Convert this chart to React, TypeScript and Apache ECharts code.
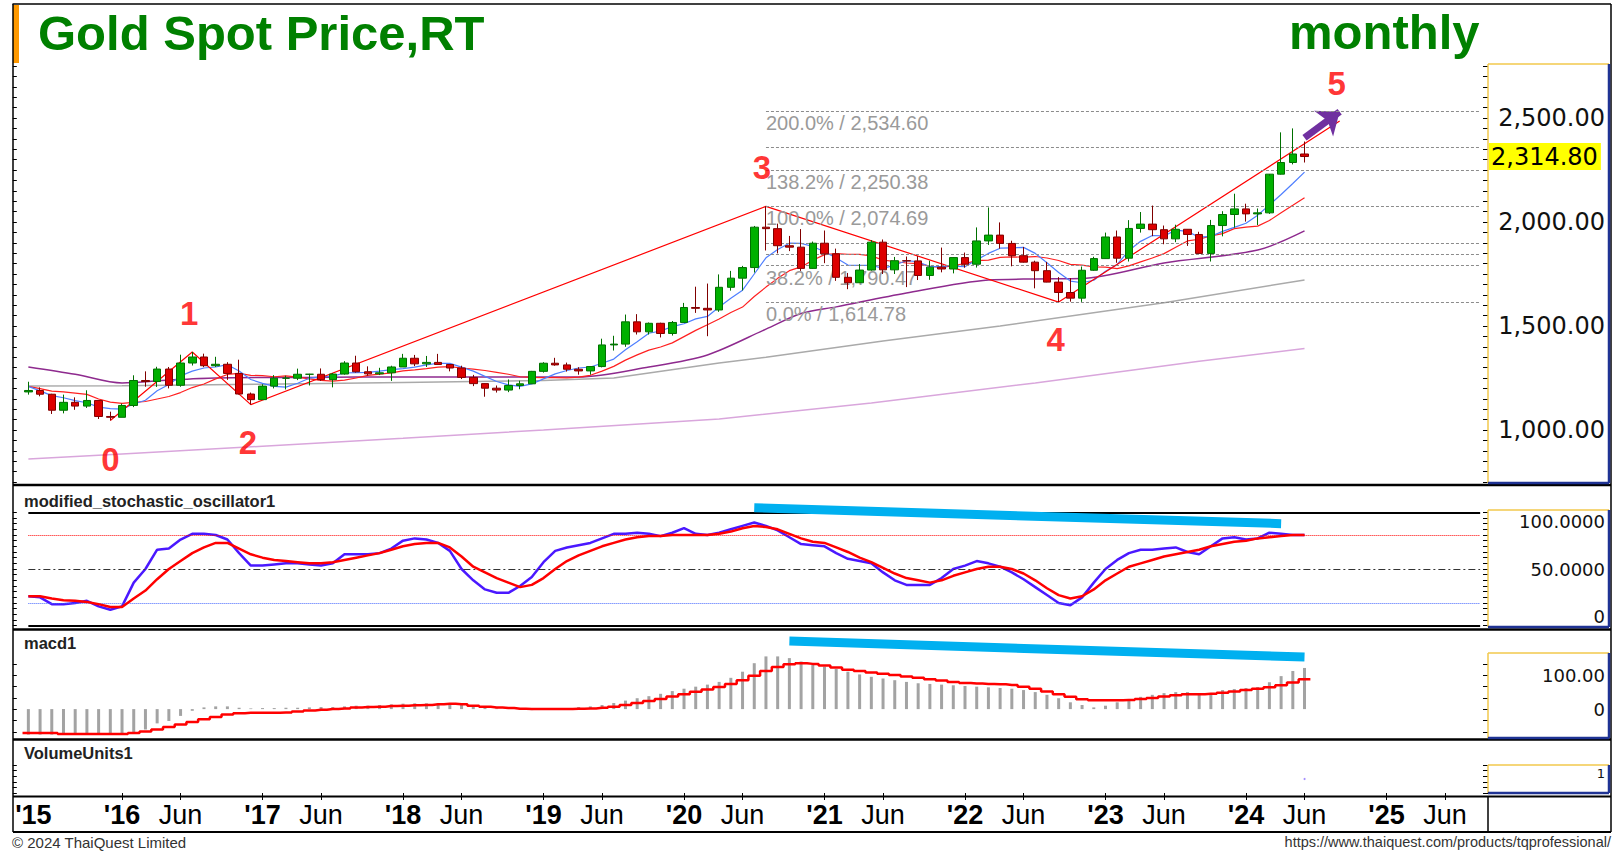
import React, { useEffect, useRef } from "react";
import * as echarts from "echarts";

// ---------- categories (monthly, Apr 2015 .. Sep 2025) ----------
const months: string[] = [];
{
  let y = 2015, m = 4;
  while (y < 2025 || (y === 2025 && m <= 9)) {
    months.push(`${y}-${m < 10 ? "0" + m : m}`);
    m += 1;
    if (m > 12) { m = 1; y += 1; }
  }
}
const firstCandle = "2015-05";
const lastPrice = 2314.8;

// ---------- x axis tick labels ----------
const xAxisMarks: Record<string, string> = {
  "2015-05": "'15",
  "2016-01": "'16", "2016-06": "Jun",
  "2017-01": "'17", "2017-06": "Jun",
  "2018-01": "'18", "2018-06": "Jun",
  "2019-01": "'19", "2019-06": "Jun",
  "2020-01": "'20", "2020-06": "Jun",
  "2021-01": "'21", "2021-06": "Jun",
  "2022-01": "'22", "2022-06": "Jun",
  "2023-01": "'23", "2023-06": "Jun",
  "2024-01": "'24", "2024-06": "Jun",
  "2025-01": "'25", "2025-06": "Jun",
};

// ---------- monthly OHLC, May 2015 .. Jun 2024 ----------
const opens = [
  1183, 1190, 1172, 1095, 1133, 1115, 1142, 1065,
  1061, 1118, 1238, 1233, 1293, 1215, 1322, 1351, 1309, 1316, 1272, 1173,
  1146, 1211, 1249, 1249, 1268, 1268, 1242, 1269, 1322, 1280, 1270, 1275,
  1303, 1345, 1318, 1325, 1315, 1298, 1253, 1223, 1201, 1192, 1214, 1222,
  1282, 1321, 1313, 1292, 1284, 1305, 1409, 1413, 1520, 1472, 1513, 1464,
  1517, 1589, 1585, 1577, 1686, 1730, 1781, 1975, 1968, 1886, 1879, 1777,
  1898, 1847, 1734, 1708, 1769, 1903, 1770, 1814, 1813, 1743, 1783, 1774,
  1829, 1797, 1909, 1937, 1897, 1838, 1807, 1766, 1711, 1661, 1634, 1768,
  1824, 1928, 1826, 1969, 1990, 1963, 1919, 1965, 1940, 1849, 1983, 2036,
  2063, 2039, 2044, 2230, 2286, 2327,
];
const highs = [
  1232, 1205, 1174, 1170, 1157, 1191, 1142, 1088,
  1127, 1263, 1282, 1304, 1303, 1362, 1375, 1367, 1352, 1326, 1338, 1180,
  1220, 1264, 1261, 1295, 1270, 1296, 1274, 1331, 1357, 1306, 1299, 1309,
  1366, 1361, 1356, 1366, 1316, 1309, 1265, 1224, 1214, 1243, 1237, 1284,
  1326, 1347, 1324, 1302, 1306, 1439, 1453, 1555, 1557, 1517, 1516, 1524,
  1611, 1689, 1704, 1748, 1765, 1789, 1981, 2075, 1992, 1933, 1966, 1906,
  1959, 1872, 1755, 1798, 1913, 1916, 1832, 1834, 1836, 1814, 1877, 1831,
  1853, 1974, 2070, 1998, 1910, 1880, 1814, 1808, 1735, 1730, 1786, 1833,
  1949, 1959, 2009, 2048, 2079, 1983, 1987, 1966, 1953, 2010, 2052, 2136,
  2088, 2065, 2222, 2431, 2450, 2387,
];
const lows = [
  1170, 1162, 1077, 1080, 1097, 1106, 1053, 1046,
  1061, 1110, 1208, 1207, 1200, 1208, 1310, 1302, 1303, 1241, 1171, 1122,
  1146, 1200, 1195, 1240, 1214, 1236, 1205, 1266, 1276, 1261, 1264, 1236,
  1303, 1307, 1303, 1314, 1282, 1245, 1211, 1160, 1180, 1182, 1196, 1221,
  1276, 1309, 1281, 1266, 1266, 1301, 1382, 1400, 1459, 1459, 1445, 1454,
  1517, 1563, 1451, 1568, 1670, 1671, 1757, 1863, 1849, 1860, 1765, 1775,
  1802, 1717, 1677, 1706, 1766, 1750, 1750, 1687, 1721, 1722, 1758, 1753,
  1780, 1781, 1890, 1872, 1787, 1805, 1681, 1710, 1615, 1617, 1616, 1765,
  1823, 1804, 1810, 1949, 1932, 1893, 1903, 1885, 1848, 1810, 1931, 1973,
  2002, 1985, 2039, 2228, 2277, 2286,
];
const closes = [
  1190, 1172, 1095, 1133, 1115, 1142, 1065, 1061,
  1118, 1238, 1233, 1293, 1215, 1322, 1351, 1309, 1316, 1272, 1173, 1146,
  1211, 1249, 1249, 1268, 1268, 1242, 1269, 1322, 1280, 1270, 1275, 1303,
  1345, 1318, 1325, 1315, 1298, 1253, 1223, 1201, 1192, 1214, 1222, 1282,
  1321, 1313, 1292, 1284, 1305, 1409, 1413, 1520, 1472, 1513, 1464, 1517,
  1589, 1585, 1577, 1686, 1730, 1781, 1975, 1968, 1886, 1879, 1777, 1898,
  1847, 1734, 1708, 1769, 1903, 1770, 1814, 1813, 1743, 1783, 1774, 1829,
  1797, 1909, 1937, 1897, 1838, 1807, 1766, 1711, 1661, 1634, 1768, 1824,
  1928, 1826, 1969, 1990, 1963, 1919, 1965, 1940, 1849, 1983, 2036, 2063,
  2039, 2044, 2230, 2286, 2327, lastPrice,
];

// ---------- moving averages ----------
const maShort = [
  1210, 1188, 1165, 1155, 1141, 1131, 1110, 1103,
  1100, 1125, 1143, 1189, 1219, 1260, 1283, 1298, 1303, 1314, 1284, 1243,
  1224, 1210, 1206, 1225, 1249, 1255, 1259, 1274, 1276, 1277, 1283, 1290,
  1295, 1302, 1313, 1321, 1320, 1302, 1283, 1258, 1233, 1217, 1210, 1222,
  1246, 1270, 1286, 1298, 1303, 1321, 1341, 1386, 1424, 1465, 1476, 1497,
  1511, 1534, 1546, 1591, 1633, 1672, 1750, 1828, 1868, 1898, 1897, 1882,
  1857, 1827, 1793, 1791, 1792, 1777, 1793, 1814, 1809, 1785, 1785, 1788,
  1785, 1818, 1849, 1874, 1876, 1878, 1849, 1804, 1757, 1716, 1708, 1720,
  1763, 1796, 1863, 1907, 1935, 1933, 1961, 1955, 1927, 1931, 1955, 1974,
  1994, 2033, 2082, 2132, 2185, 2240,
];
const maMid = [
  1210, 1199, 1187, 1183, 1177, 1171, 1149, 1134,
  1128, 1133, 1137, 1149, 1161, 1180, 1204, 1221, 1246, 1267, 1272, 1263,
  1261, 1256, 1260, 1254, 1246, 1239, 1235, 1240, 1250, 1263, 1269, 1275,
  1284, 1289, 1295, 1302, 1305, 1298, 1293, 1286, 1277, 1268, 1256, 1253,
  1252, 1252, 1251, 1254, 1263, 1283, 1306, 1336, 1361, 1384, 1399, 1419,
  1449, 1479, 1506, 1534, 1565, 1591, 1642, 1687, 1729, 1766, 1784, 1816,
  1843, 1848, 1845, 1844, 1837, 1817, 1810, 1803, 1800, 1788, 1781, 1791,
  1800, 1814, 1817, 1830, 1832, 1831, 1834, 1827, 1815, 1796, 1793, 1784,
  1783, 1776, 1789, 1808, 1827, 1848, 1879, 1909, 1917, 1933, 1944, 1968,
  1975, 1980, 2007, 2044, 2080, 2117,
];
const maPurple: [string, number][] = [
  ["2015-05", 1303], ["2015-09", 1268], ["2016-01", 1226], ["2016-05", 1240],
  ["2016-09", 1250], ["2017-05", 1253], ["2018-01", 1255], ["2018-09", 1255],
  ["2019-04", 1255], ["2019-10", 1303], ["2020-03", 1361], ["2020-08", 1485],
  ["2020-11", 1560], ["2021-02", 1592], ["2021-08", 1659], ["2022-03", 1721],
  ["2022-07", 1726], ["2022-11", 1728], ["2023-06", 1803], ["2024-02", 1865],
  ["2024-06", 1957],
];
const maGray: [string, number][] = [
  ["2015-05", 1212], ["2016-01", 1213], ["2017-01", 1220], ["2018-01", 1228],
  ["2019-01", 1238], ["2019-07", 1250], ["2020-04", 1322], ["2020-08", 1350],
  ["2021-06", 1428], ["2022-04", 1500], ["2023-06", 1612], ["2024-06", 1721],
];
const maPlum: [string, number][] = [
  ["2015-05", 860], ["2016-01", 885], ["2017-01", 922], ["2018-01", 960],
  ["2019-01", 1000], ["2020-04", 1053], ["2021-05", 1130], ["2022-07", 1226],
  ["2023-09", 1330], ["2024-06", 1392],
];

// ---------- Elliott wave & Fibonacci ----------
const wavePath: [string, number][] = [
  ["2015-12", 1046], ["2016-07", 1375], ["2016-12", 1122],
  ["2020-08", 2075], ["2022-09", 1615], ["2024-09", 2485],
];
const waveLabels = [
  { cat: "2015-12", v: 856, t: "0", dx: 0 },
  { cat: "2016-07", v: 1562, t: "1", dx: -3 },
  { cat: "2016-12", v: 942, t: "2", dx: -3 },
  { cat: "2020-08", v: 2260, t: "3", dx: -4 },
  { cat: "2022-09", v: 1437, t: "4", dx: -3 },
  { cat: "2024-09", v: 2668, t: "5", dx: -3 },
];
const arrowFrom: [string, number] = ["2024-06", 2405];
const arrowTo: [string, number] = ["2024-09", 2530];
const fibRatios = [0, 38.2, 50, 61.8, 100, 138.2, 161.8, 200];
const fibLevels = [1614.78, 1790.47, 1844.74, 1899.0, 2074.69, 2250.38, 2358.96, 2534.6];
const fibLabeled = [true, true, false, false, true, true, false, true];
const fibStart = "2020-08";

// ---------- modified stochastic oscillator ----------
const stochK = [
  26, 25, 19, 19, 20, 22, 17, 14,
  17, 38, 50, 67, 68, 76, 81, 81, 80, 76, 64, 53,
  53, 54, 55, 55, 54, 53, 55, 63, 63, 63, 64, 68,
  75, 77, 76, 73, 66, 50, 40, 32, 29,
  29, 35, 43, 56, 66, 69, 71, 73, 77, 81,
  81, 82, 81, 79, 82, 86, 81, 80, 82, 85,
  88, 91, 88, 84, 78, 72, 71, 70, 64, 59,
  57, 55, 47, 40, 36, 36, 36, 42, 50, 53,
  57, 55, 52, 47, 41, 34, 27, 20, 18, 25,
  38, 50, 58, 64, 67, 67, 68, 69, 65, 63,
  70, 77, 78, 76, 77, 82, 81, 80, 80,
];
const stochD = [
  26, 26, 24, 22.5, 22, 21, 19, 16.5,
  16.5, 24, 31, 41, 50, 57, 64, 69, 73, 73, 68, 63,
  60, 58, 57, 56, 55, 55, 56, 58, 60, 62, 64, 67,
  70, 72, 73, 73, 69, 61, 52, 47, 42,
  38, 34, 36, 42, 50, 57, 62, 66, 70, 73,
  76, 78, 79, 79, 80, 80, 80, 80, 81, 83,
  86, 88, 87, 85, 81, 77, 74, 73, 69, 65,
  60, 56, 51, 46, 42, 40, 38, 40, 44, 47,
  50, 52, 52, 50, 46, 40, 33, 27, 24, 26,
  32, 40, 46, 52, 55, 58, 61, 63, 65, 67,
  70, 72, 74, 75, 77, 78, 79, 80, 80,
];
const stochRefs = [
  { v: 80, color: "#FF0000", type: "dotted" },
  { v: 50, color: "#333333", type: [7, 3, 2, 3] },
  { v: 20, color: "#4466FF", type: "dotted" },
];
const stochTrend: [string, number][] = [["2020-07", 104], ["2024-04", 90]];

// ---------- MACD ----------
const macdHist = [
  -75, -75, -75, -75, -75, -75, -75, -75, -75,
  -70, -60, -42, -35, -20, -5, 5, 8, 8, 4, 2,
  3, 3, 4, 4, 5, 6, 6, 8, 10, 10, 12, 14, 16, 17, 17, 18, 18, 15, 10, 5, 2,
  0, -2, -3, -2, 0, 3, 6, 8, 12, 18,
  25, 32, 38, 45, 53, 60, 66, 72, 80, 92,
  110, 135, 155, 155, 150, 140, 132, 125, 118, 110,
  102, 95, 90, 85, 80, 76, 74, 72, 70, 68,
  66, 64, 62, 60, 56, 50, 42, 32, 20, 12,
  5, 10, 20, 28, 36, 42, 47, 50, 50, 47, 44, 56, 59, 62, 65, 79, 97, 112, 121,
];
const macdSignal = [
  -70, -70, -70, -73, -73, -73, -73, -73, -73,
  -70, -66, -60, -53, -45, -38, -30, -23, -16, -12, -11,
  -11, -11, -10, -7, -4, -2, 0, 2, 5, 6, 7, 9, 10, 11, 12, 14, 16, 14, 10, 7, 5,
  3, 1, 0, 0, 0, 0, 1, 2, 4, 7,
  12, 18, 24, 30, 37, 44, 51, 58, 65, 74,
  85, 98, 112, 124, 132, 135, 133, 128, 122, 116,
  112, 108, 104, 100, 96, 92, 88, 84, 80, 77,
  75, 74, 73, 71, 66, 60, 52, 44, 36, 29,
  26, 26, 26, 27, 30, 33, 37, 41, 44, 44, 45, 48, 52, 56, 60, 64, 70, 78, 88,
];
const macdTrend: [string, number][] = [["2020-10", 200], ["2024-06", 153]];

// ---------- volume ----------
const volumePoints: [string, number][] = [["2024-06", 0.5]];

// ---------- helpers ----------
const lead = months.indexOf(firstCandle);
const pad = (arr: number[]) =>
  months.map((_, k) => {
    const i = k - lead;
    return i >= 0 && i < arr.length ? arr[i] : "-";
  });
const fmt2 = (v: number) =>
  v.toLocaleString("en-US", { minimumFractionDigits: 2, maximumFractionDigits: 2 });
const range = (a: number, b: number, s: number) => {
  const r: number[] = [];
  for (let v = a; v <= b + 1e-9; v += s) r.push(Math.round(v * 1000) / 1000);
  return r;
};
const FONT = "Liberation Sans, Arial, sans-serif";
const AXFONT = "DejaVu Sans, Verdana, sans-serif";

function buildOption(): any {
  const GL = 10.8, GW = 1475.2;
  const grids = [
    { left: GL, width: GW, top: 66, height: 416 },
    { left: GL, width: GW, top: 512.3, height: 113.4 },
    { left: GL, width: GW, top: 653, height: 85 },
    { left: GL, width: GW, top: 765, height: 28 },
  ];

  const xAxis = [0, 1, 2, 3].map((g) => ({
    type: "category",
    gridIndex: g,
    data: months,
    boundaryGap: true,
    axisLine: { show: false },
    splitLine: { show: false },
    axisTick: {
      show: g === 3,
      alignWithLabel: true,
      length: 7,
      lineStyle: { color: "#000", width: 1 },
      interval: (_i: number, v: string) => !!xAxisMarks[v] && v !== firstCandle,
    },
    axisLabel: {
      show: g === 3,
      margin: 8,
      interval: (_i: number, v: string) => !!xAxisMarks[v],
      formatter: (v: string) => {
        const t = xAxisMarks[v];
        if (!t) return "";
        if (v === firstCandle) return `{f|${t}}`;
        return t === "Jun" ? `{m|${t}}` : `{y|${t}}`;
      },
      rich: {
        y: { fontSize: 27, fontWeight: "bold", color: "#000", fontFamily: FONT },
        m: { fontSize: 27, color: "#000", fontFamily: FONT },
        f: { fontSize: 27, fontWeight: "bold", color: "#000", fontFamily: FONT, padding: [0, 0, 0, 10] },
      },
    },
  }));

  const rightAxis = (g: number, min: number, max: number, labels: number[], ticks: number[], fmt: (v: number) => string, fs: number, vAlign: any) => ({
    type: "value", gridIndex: g, position: "right", min, max, offset: 2,
    splitLine: { show: false },
    axisLine: { show: false },
    axisTick: { show: true, inside: true, length: 5, customValues: ticks, lineStyle: { color: "#000" } },
    axisLabel: {
      show: true, customValues: labels, formatter: fmt, align: "right", margin: 117,
      fontSize: fs, fontFamily: AXFONT, color: "#111",
      ...vAlign,
    },
  });
  const leftAxis = (g: number, min: number, max: number, ticks: number[]) => ({
    type: "value", gridIndex: g, position: "left", min, max, offset: -2,
    splitLine: { show: false }, axisLine: { show: false }, axisLabel: { show: false },
    axisTick: { show: true, inside: true, length: 4, customValues: ticks, lineStyle: { color: "#000" } },
  });

  const yAxis = [
    rightAxis(0, 750, 2750, [1000, 1500, 2000, 2500], range(750, 2750, 50), fmt2, 24, {}),
    leftAxis(0, 750, 2750, range(750, 2750, 50)),
    rightAxis(1, 0, 100, [0, 50, 100], range(0, 100, 5), (v) => (v === 0 ? "0" : v.toFixed(4)), 18,
      { verticalAlignMaxLabel: "top", verticalAlignMinLabel: "bottom" }),
    leftAxis(1, 0, 100, range(0, 100, 5)),
    rightAxis(2, -85, 165, [0, 100], range(-66.667, 165, 33.3333), (v) => (v === 0 ? "0" : v.toFixed(2)), 18, {}),
    leftAxis(2, -85, 165, range(-66.667, 165, 33.3333)),
    rightAxis(3, 0, 1, [1], range(0, 1, 0.2), (v) => String(v), 13, { verticalAlign: "top", padding: [2, 0, 0, 0] }),
    leftAxis(3, 0, 1, range(0, 1, 0.2)),
  ];

  const lastCat = months[months.length - 1];

  const fibLines: any[] = fibLevels.map((v, k) => [
    {
      coord: [fibStart, v],
      label: {
        show: fibLabeled[k],
        position: "insideStartBottom",
        distance: [0, 2],
        formatter: `${fibRatios[k].toFixed(1)}% / ${fmt2(v)}`,
        color: "#9A9A9A",
        fontSize: 20,
        fontFamily: FONT,
      },
    },
    { coord: [lastCat, v] },
  ]);

  const series: any[] = [
    { type: "line", name: "ma200", xAxisIndex: 0, yAxisIndex: 0, data: maPlum, showSymbol: false, symbol: "none",
      lineStyle: { color: "#D9A6DC", width: 1.5 }, z: 2, silent: true },
    { type: "line", name: "ma100", xAxisIndex: 0, yAxisIndex: 0, data: maGray, showSymbol: false, symbol: "none",
      lineStyle: { color: "#AAAAAA", width: 1.5 }, z: 2, silent: true },
    { type: "line", name: "ma30", xAxisIndex: 0, yAxisIndex: 0, data: maPurple, showSymbol: false, symbol: "none",
      smooth: 0.3, lineStyle: { color: "#8E2A8E", width: 1.5 }, z: 2, silent: true },
    { type: "line", name: "ma10", xAxisIndex: 0, yAxisIndex: 0, data: pad(maMid), showSymbol: false, symbol: "none",
      lineStyle: { color: "#FF2020", width: 1.2 }, z: 3, silent: true },
    { type: "line", name: "ma5", xAxisIndex: 0, yAxisIndex: 0, data: pad(maShort), showSymbol: false, symbol: "none",
      lineStyle: { color: "#4F7FFF", width: 1.2 }, z: 3, silent: true },
    {
      type: "line", name: "wave", xAxisIndex: 0, yAxisIndex: 0, data: wavePath, showSymbol: false, symbol: "none",
      lineStyle: { color: "#FF0000", width: 1.2 }, z: 4, silent: true,
      markLine: {
        silent: true, symbol: ["none", "arrow"], symbolSize: [24, 20],
        lineStyle: { color: "#7030A0", width: 7, type: "solid" },
        label: { show: false },
        data: [[{ coord: arrowFrom }, { coord: arrowTo }]],
      },
    },
    {
      type: "candlestick", name: "gold", xAxisIndex: 0, yAxisIndex: 0, barWidth: 8, z: 5, silent: true,
      data: months.map((_, k) => {
        const i = k - lead;
        return i >= 0 && i < closes.length ? [opens[i], closes[i], lows[i], highs[i]] : "-";
      }),
      itemStyle: { color: "#00B000", color0: "#DD0000", borderColor: "#007000", borderColor0: "#800000", borderWidth: 1 },
      markLine: {
        silent: true, symbol: ["none", "none"],
        lineStyle: { color: "#8C8C8C", width: 1, type: [3, 2] },
        data: [
          ...fibLines,
          {
            yAxis: lastPrice,
            lineStyle: { color: "rgba(0,0,0,0)", width: 0.1 },
            label: {
              show: true, position: "end", distance: 3, formatter: fmt2(lastPrice),
              backgroundColor: "#FFFF00", color: "#000", fontSize: 24, fontFamily: AXFONT, padding: [2, 3, 1, 2],
            },
          },
        ],
      },
    },
    {
      type: "scatter", name: "waveLabels", xAxisIndex: 0, yAxisIndex: 0, symbolSize: 1, z: 6, silent: true,
      itemStyle: { color: "rgba(0,0,0,0)" },
      label: { show: true, position: "inside", color: "#FF0000", fontSize: 33, fontWeight: "bold", fontFamily: FONT },
      data: waveLabels.map((w) => ({ value: [w.cat, w.v], label: { formatter: w.t, offset: [w.dx, 0] } })),
    },
    // stochastic
    {
      type: "line", name: "%K", xAxisIndex: 1, yAxisIndex: 2, data: pad(stochK), showSymbol: false, symbol: "none",
      lineStyle: { color: "#4A18FF", width: 2.5 }, z: 4, silent: true,
      markLine: {
        silent: true, symbol: ["none", "none"], label: { show: false },
        data: [
          [{ coord: [firstCandle, 100], lineStyle: { color: "#000", width: 2, type: "solid" } }, { coord: [lastCat, 100] }],
          [{ coord: [firstCandle, 0], lineStyle: { color: "#000", width: 2, type: "solid" } }, { coord: [lastCat, 0] }],
          ...stochRefs.map((r) => [
            { coord: [firstCandle, r.v], lineStyle: { color: r.color, width: 1, type: r.type } },
            { coord: [lastCat, r.v] },
          ]),
        ],
      },
    },
    {
      type: "line", name: "%D", xAxisIndex: 1, yAxisIndex: 2, data: pad(stochD), showSymbol: false, symbol: "none",
      lineStyle: { color: "#FF0000", width: 2.5 }, z: 5, silent: true,
    },
    {
      type: "line", name: "stochTrend", xAxisIndex: 1, yAxisIndex: 2, data: stochTrend, showSymbol: false, symbol: "none",
      clip: false, lineStyle: { color: "#00B0F0", width: 9, cap: "butt" }, z: 6, silent: true,
    },
    // macd
    {
      type: "bar", name: "macdHist", xAxisIndex: 2, yAxisIndex: 4, data: pad(macdHist), barWidth: 3,
      itemStyle: { color: "#A3A3A3" }, z: 3, silent: true,
    },
    {
      type: "line", name: "macdSignal", xAxisIndex: 2, yAxisIndex: 4, data: pad(macdSignal), showSymbol: false,
      symbol: "none", step: "middle", lineStyle: { color: "#FF0000", width: 2.5 }, z: 4, silent: true,
    },
    {
      type: "line", name: "macdTrend", xAxisIndex: 2, yAxisIndex: 4, data: macdTrend, showSymbol: false, symbol: "none",
      clip: false, lineStyle: { color: "#00B0F0", width: 9, cap: "butt" }, z: 6, silent: true,
    },
    // volume
    {
      type: "scatter", name: "volume", xAxisIndex: 3, yAxisIndex: 6, data: volumePoints, symbolSize: 2,
      itemStyle: { color: "#8A6CFF" }, silent: true,
    },
  ];

  const L = (x1: number, y1: number, x2: number, y2: number, stroke: string, w: number) => ({
    type: "line", silent: true, z: 100, shape: { x1, y1, x2, y2 }, style: { stroke, lineWidth: w },
  });
  const box = (x1: number, y1: number, x2: number, y2: number) => [
    L(x1, y1, x2, y1, "#F2C94C", 1.5),
    L(x1, y1, x1, y2, "#F2C94C", 1.5),
    L(x2, y1, x2, y2, "#1F3394", 2.5),
    L(x1, y2, x2, y2, "#1F3394", 2.5),
  ];

  const graphic = [
    { type: "rect", silent: true, z: 100, shape: { x: 13, y: 5, width: 6, height: 58 }, style: { fill: "#FF9900" } },
    L(12.5, 4, 1611, 4, "#000", 1.5),
    L(13, 4, 13, 832, "#000", 1.5),
    L(1611, 4, 1611, 832, "#000", 1.5),
    L(13, 485, 1611, 485, "#000", 2.5),
    L(13, 629.5, 1611, 629.5, "#000", 2.5),
    L(13, 739.5, 1611, 739.5, "#000", 2.5),
    L(13, 796.5, 1611, 796.5, "#000", 2),
    L(13, 832, 1611, 832, "#000", 2),
    L(1488, 797, 1488, 832, "#000", 1.5),
    ...box(1488, 64, 1609, 483),
    ...box(1488, 510, 1609, 627),
    ...box(1488, 653, 1609, 738),
    ...box(1488, 765, 1609, 793),
  ];

  const t = (text: string, left: number | string, top: number, fs: number, color: string, weight: string, extra: any = {}) => ({
    text, left, top, padding: 0,
    textStyle: { fontSize: fs, color, fontWeight: weight, fontFamily: FONT, ...extra },
  });

  return {
    animation: false,
    backgroundColor: "#FFFFFF",
    textStyle: { fontFamily: FONT },
    title: [
      t("Gold Spot Price,RT", 38, 8, 49, "#008000", "bold"),
      t("monthly", 1289, 7, 49, "#008000", "bold"),
      t("modified_stochastic_oscillator1", 24, 492, 16.5, "#222", "bold"),
      t("macd1", 24, 634, 16.5, "#222", "bold"),
      t("VolumeUnits1", 24, 744, 16.5, "#222", "bold"),
      t("\u00A9 2024 ThaiQuest Limited", 12, 835, 15, "#333", "normal"),
      { ...t("https://www.thaiquest.com/products/tqprofessional/", 0, 834, 14.5, "#333", "normal"), left: undefined, right: 10 },
    ],
    grid: grids,
    xAxis,
    yAxis,
    series,
    graphic,
  };
}

export default function App() {
  const ref = useRef<HTMLDivElement>(null);
  useEffect(() => {
    if (!ref.current) return;
    const chart = echarts.init(ref.current, null, { renderer: "svg" });
    chart.setOption(buildOption());
    return () => chart.dispose();
  }, []);
  return (
    <div
      ref={ref}
      style={{ position: "fixed", left: 0, top: 0, width: 1621, height: 855, background: "#fff" }}
    />
  );
}
